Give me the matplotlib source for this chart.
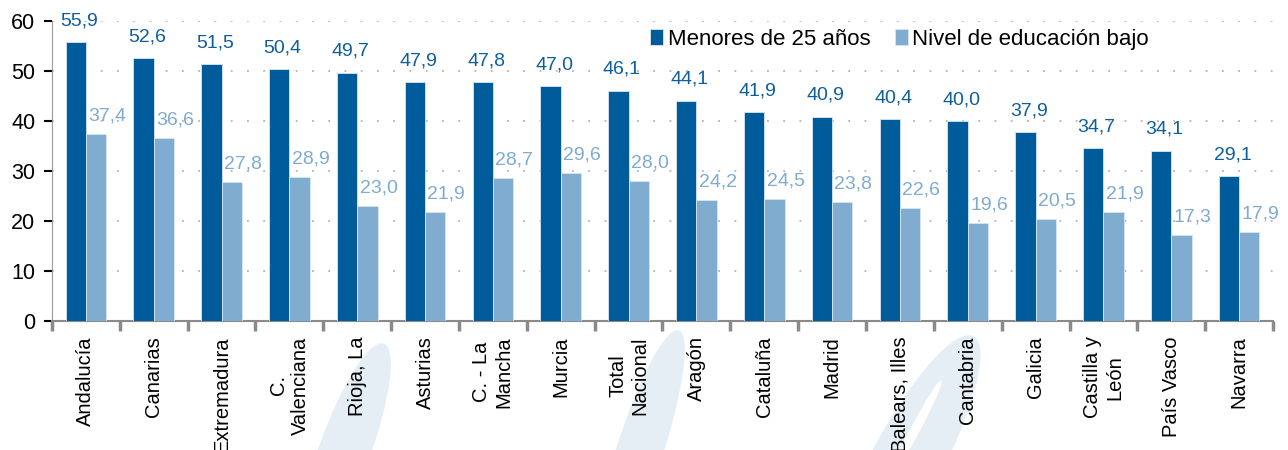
import numpy as np
import matplotlib.pyplot as plt
from matplotlib.patches import Ellipse

plt.rcParams['font.family'] = ['Liberation Sans', 'DejaVu Sans']

# data
regiones = ['Andalucía', 'Canarias', 'Extremadura', 'C.\nValenciana', 'Rioja, La',
            'Asturias', 'C. - La\nMancha', 'Murcia', 'Total\nNacional', 'Aragón',
            'Cataluña', 'Madrid', 'Balears, Illes', 'Cantabria', 'Galicia',
            'Castilla y\nLeón', 'País Vasco', 'Navarra']
menores_25 = [55.9, 52.6, 51.5, 50.4, 49.7, 47.9, 47.8, 47.0, 46.1, 44.1,
              41.9, 40.9, 40.4, 40.0, 37.9, 34.7, 34.1, 29.1]
educ_baja = [37.4, 36.6, 27.8, 28.9, 23.0, 21.9, 28.7, 29.6, 28.0, 24.2,
             24.5, 23.8, 22.6, 19.6, 20.5, 21.9, 17.3, 17.9]
series_names = ['Menores de 25 años', 'Nivel de educación bajo']
yticks = [0, 10, 20, 30, 40, 50, 60]

DARK = '#005b9a'
LIGHT = '#80adcf'

fig = plt.figure(figsize=(12.88, 4.5), dpi=100)
ax = fig.add_axes([52 / 1288, 1 - 321 / 450, (1273 - 52) / 1288, 300 / 450])

# faint watermark streaks behind everything (pixel coords, origin bottom-left)
for cx_, cy_, w, h, ang, col in [(345, 0, 50, 225, -20, '#e5eef4'),
                                 (640, 0, 45, 250, -18, '#e5eef4'),
                                 (905, -15, 70, 290, -28, '#e5eef4'),
                                 (915, 20, 8, 110, -28, 'white')]:
    fig.patches.append(Ellipse((cx_, cy_), w, h, angle=ang, transform=None,
                               color=col, zorder=-1))

x = np.arange(len(regiones))
bw = 0.3
ax.bar(x - bw / 2, menores_25, bw, color=DARK, edgecolor='#d8e6f0',
       linewidth=0.6, label=series_names[0], zorder=3)
ax.bar(x + bw / 2, educ_baja, bw, color=LIGHT, edgecolor='#d8e6f0',
       linewidth=0.6, label=series_names[1], zorder=3)

for xi, v in zip(x, menores_25):
    ax.annotate(f'{v:.1f}'.replace('.', ','), xy=(xi - bw / 2, v), xytext=(2.5, 9),
                textcoords='offset points', ha='center', va='bottom',
                color='#0f5e9c', fontsize=14)
for xi, v in zip(x, educ_baja):
    ax.annotate(f'{v:.1f}'.replace('.', ','), xy=(xi + bw / 2, v), xytext=(8, 6.5),
                textcoords='offset points', ha='center', va='bottom',
                color='#7fabd0', fontsize=14)

ax.set_xlim(-0.5, len(regiones) - 0.5)
ax.set_ylim(0, 60)
ax.set_yticks(yticks)
ax.tick_params(axis='y', labelsize=15.5, length=6, width=1.5, color='black', pad=6)
ax.set_xticks(x)
ax.set_xticklabels(regiones, rotation=90, ha='center', va='top', fontsize=14.5,
                   multialignment='center')
ax.tick_params(axis='x', which='major', length=0, pad=11)
ax.set_xticks(np.arange(-0.5, len(regiones), 1), minor=True)
ax.tick_params(axis='x', which='minor', length=7, width=2.5, color='#8a8a8a')

ax.yaxis.grid(True, linestyle=(0, (1, 8)), color='#b5b5b5', linewidth=1.3, zorder=0)
ax.set_axisbelow(True)

for s in ['top', 'right']:
    ax.spines[s].set_visible(False)
ax.spines['left'].set_color('#9a9a9a')
ax.spines['bottom'].set_color('#8a8a8a')
ax.spines['bottom'].set_linewidth(1.5)
ax.patch.set_alpha(0)

ax.legend(loc='upper left', bbox_to_anchor=((642 - 52) / 1221, 1.0), ncol=2,
          frameon=False, fontsize=16, handlelength=0.6, handleheight=0.75,
          handletextpad=0.2, columnspacing=1.1, borderaxespad=0, borderpad=0.35)

fig.savefig('out.png', dpi=100)
